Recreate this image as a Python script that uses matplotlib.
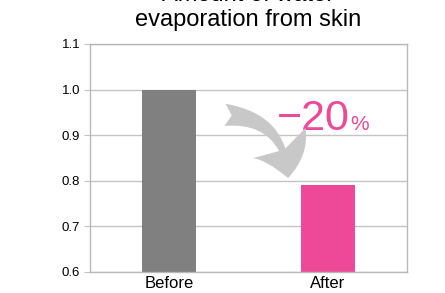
"""Amount of water evaporation from skin: before / after bar chart."""
import matplotlib
matplotlib.use("Agg")
import matplotlib.pyplot as plt
from matplotlib.patches import FancyArrowPatch

plt.rcParams["font.family"] = ["Liberation Sans", "DejaVu Sans"]

# ---------- data ----------
categories = ["Before", "After"]
values = [1.0, 0.79]
bar_colors = ["#808080", "#ee4899"]
yticks = [0.6, 0.7, 0.8, 0.9, 1.0, 1.1]
title = "Amount of water\nevaporation from skin"
change_label = "\u221220"

GRID = "#c4c4c4"
PINK = "#ee4899"

fig = plt.figure(figsize=(4.45, 2.93), dpi=100)
ax = fig.add_axes([0.2022, 0.0717, 0.7124, 0.7782])

x = range(len(categories))
ax.bar(x, values, width=0.34, color=bar_colors, zorder=2, bottom=0)
ax.set_xlim(-0.5, 1.5)
ax.set_ylim(0.6, 1.1)
ax.set_yticks(yticks)
ax.set_yticklabels([f"{v:.1f}" for v in yticks], fontsize=9.5)
ax.set_xticks(list(x))
ax.set_xticklabels(categories, fontsize=12)
ax.tick_params(axis="x", length=0, pad=3)
ax.tick_params(axis="y", length=4, color=GRID, pad=3)
ax.yaxis.grid(True, color=GRID, lw=1, zorder=0)
for s in ax.spines.values():
    s.set_color("#b8b8b8")
    s.set_linewidth(1)

fig.text(0.5585, 1 - 31 / 293, title, ha="center", va="bottom",
         fontsize=17, linespacing=1.15)

# 下降幅度标注
ax.text(0.59, 0.623, change_label, transform=ax.transAxes, color=PINK,
        fontsize=31, va="baseline", ha="left")
ax.text(0.822, 0.623, "%", transform=ax.transAxes, color=PINK,
        fontsize=15, va="baseline", ha="left")

arrow = FancyArrowPatch((0.426, 0.689), (0.625, 0.412),
                        transform=ax.transAxes,
                        connectionstyle="arc3,rad=-0.45",
                        arrowstyle="fancy,head_length=26,head_width=44,tail_width=16",
                        shrinkA=0, shrinkB=0,
                        mutation_scale=1, color="#c8c8c8", lw=0, zorder=3)
ax.add_patch(arrow)

fig.savefig("out.png", dpi=100)
